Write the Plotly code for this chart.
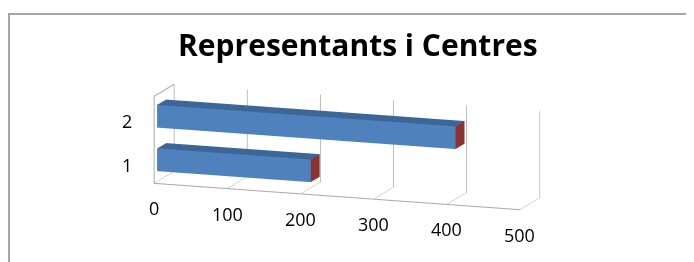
import math
import plotly.graph_objects as go

# ---------------- data ----------------
title_text = "Representants i Centres"
categories = ["1", "2"]
cat_positions = [1, 2]
values = [210, 408]
x_ticks = [0, 100, 200, 300, 400, 500]
x_tick_labels = ["0", "100", "200", "300", "400", "500"]

# ---------------- style / layout constants ----------------
W, H = 686, 254           # page body adds an 8px margin
X_RANGE = [0, 500]
Y_RANGE = [0, 1]          # depth of the 3-D box
Z_RANGE = [0.5, 2.5]      # category axis (vertical)
BAR_HALF = 0.26
BAR_Y0, BAR_Y1 = 0.15, 0.60

FRONT_C = "#4f81bd"
TOP_C = "#3c6696"
SIDE_C = "#8e3131"
GRID_C = "#a9a9a9"
LABEL_FONT = dict(family="Open Sans", size=18, color="#000000")

FACES = [
    ((0, 1, 5), "front"), ((0, 5, 4), "front"),
    ((3, 2, 6), "back"), ((3, 6, 7), "back"),
    ((4, 5, 6), "top"), ((4, 6, 7), "top"),
    ((0, 1, 2), "bottom"), ((0, 2, 3), "bottom"),
    ((1, 2, 6), "side"), ((1, 6, 5), "side"),
    ((0, 3, 7), "side"), ((0, 7, 4), "side"),
]
FACE_COLORS = {"front": FRONT_C, "back": FRONT_C, "top": TOP_C,
               "bottom": FRONT_C, "side": SIDE_C}

fig = go.Figure()

for val, zc in zip(values, cat_positions):
    x0, x1 = X_RANGE[0], val
    z0, z1 = zc - BAR_HALF, zc + BAR_HALF
    vx = [x0, x1, x1, x0, x0, x1, x1, x0]
    vy = [BAR_Y0, BAR_Y0, BAR_Y1, BAR_Y1, BAR_Y0, BAR_Y0, BAR_Y1, BAR_Y1]
    vz = [z0, z0, z0, z0, z1, z1, z1, z1]
    fig.add_trace(go.Mesh3d(
        x=vx, y=vy, z=vz,
        i=[f[0][0] for f in FACES], j=[f[0][1] for f in FACES], k=[f[0][2] for f in FACES],
        facecolor=[FACE_COLORS[f[1]] for f in FACES],
        flatshading=True,
        lighting=dict(ambient=1.0, diffuse=0.0, specular=0.0, roughness=1.0, fresnel=0.0),
        hoverinfo="skip", showscale=False,
    ))

# wall outlines (left wall + floor front edge), from the axis ranges
xa, xb = X_RANGE
ya, yb = Y_RANGE
za, zb = Z_RANGE
fig.add_trace(go.Scatter3d(
    x=[xb, xa, xa, xa],
    y=[ya, ya, ya, yb],
    z=[za, za, zb, zb],
    mode="lines", line=dict(color=GRID_C, width=2),
    hoverinfo="skip", showlegend=False,
))

# axis labels placed at the front edges of the box (in scene coordinates)
scene_annotations = []
for tv, tt in zip(x_ticks, x_tick_labels):
    scene_annotations.append(dict(x=tv, y=ya, z=za, text=tt, showarrow=False,
                                  xanchor="center", yanchor="middle",
                                  yshift=-25, font=LABEL_FONT))
for cv, ct in zip(cat_positions, categories):
    scene_annotations.append(dict(x=xa, y=ya, z=cv, text=ct, showarrow=False,
                                  xanchor="right", yanchor="middle",
                                  xshift=-20, yshift=-3, font=LABEL_FONT))

# camera (orthographic)
phi = math.radians(19.1)
psi = math.radians(12.0)
R = 2.0
d = (math.sin(phi) * math.cos(psi), -math.cos(phi) * math.cos(psi), math.sin(psi))
u = (-math.sin(phi) * math.sin(psi), math.cos(phi) * math.sin(psi), math.cos(psi))
r = (math.cos(phi), math.sin(phi), 0.0)
k_px = H / 2.0
shift_down = 12 / k_px
shift_left = 4 / k_px
center = tuple(shift_down * u[i] + shift_left * r[i] for i in range(3))
eye = tuple(center[i] + R * d[i] for i in range(3))

common = dict(showbackground=False, zeroline=False, showspikes=False,
              showline=False, ticks="", showticklabels=False, title=dict(text=""))

fig.update_layout(
    width=W, height=H,
    margin=dict(l=0, r=0, t=0, b=0),
    paper_bgcolor="white",
    showlegend=False,
    hovermode=False,
    title=dict(text=title_text, x=0.510, xanchor="center", y=1 - 37.5 / H,
               yanchor="middle", yref="container",
               font=dict(family="Open Sans", size=30, color="#000000", weight="bold")),
    scene=dict(
        domain=dict(x=[0, 1], y=[0, 1]),
        bgcolor="white",
        aspectmode="manual",
        aspectratio=dict(x=387 / k_px, y=61 / k_px, z=89 / k_px),
        camera=dict(eye=dict(x=eye[0], y=eye[1], z=eye[2]),
                    center=dict(x=center[0], y=center[1], z=center[2]),
                    up=dict(x=0, y=0, z=1),
                    projection=dict(type="orthographic")),
        xaxis=dict(range=X_RANGE, tickvals=x_ticks, showgrid=True,
                   gridcolor=GRID_C, gridwidth=1.5, **common),
        yaxis=dict(range=Y_RANGE, showgrid=False, **common),
        zaxis=dict(range=Z_RANGE, tickvals=cat_positions, showgrid=False, **common),
        annotations=scene_annotations,
    ),
    shapes=[dict(type="rect", xref="paper", yref="paper",
                 x0=1 / W, x1=1.05, y0=-0.05, y1=1 - 6 / H,
                 line=dict(color="#a6a6a6", width=2), fillcolor="rgba(0,0,0,0)")],
)

fig.write_html("out.html")
